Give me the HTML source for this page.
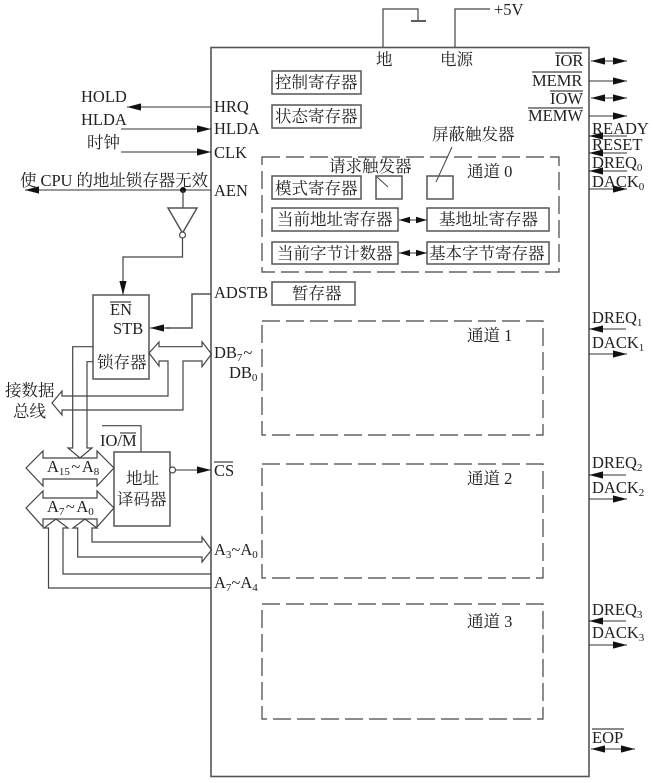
<!DOCTYPE html>
<html><head><meta charset="utf-8"><style>
html,body{margin:0;padding:0;background:#fff;width:653px;height:783px;overflow:hidden}
svg{display:block}
text{font-family:"Liberation Serif","Noto Serif CJK SC",serif;font-size:16.5px;fill:#222}
tspan.s{font-size:11px}
.l{fill:none;stroke:#444;stroke-width:1.2}
.b{fill:none;stroke:#555;stroke-width:1.5}
.d{fill:none;stroke:#444;stroke-width:1.2;stroke-dasharray:18 6}
.a{fill:none;stroke:#333;stroke-width:1.1;marker-end:url(#h)}
.aa{fill:none;stroke:#333;stroke-width:1.1;marker-end:url(#h);marker-start:url(#hs)}
.ab{fill:none;stroke:#333;stroke-width:1.1;marker-end:url(#h2);marker-start:url(#hs2)}
</style></head><body>
<svg width="653" height="783" viewBox="0 0 653 783" xmlns="http://www.w3.org/2000/svg">
<defs>
<marker id="h" markerUnits="userSpaceOnUse" markerWidth="14" markerHeight="8" refX="14" refY="4" orient="auto"><path d="M0 .4L14 4L0 7.6z" fill="#111"/></marker>
<marker id="hs" markerUnits="userSpaceOnUse" markerWidth="14" markerHeight="8" refX="0" refY="4" orient="auto"><path d="M14 .4L0 4L14 7.6z" fill="#111"/></marker>
<marker id="h2" markerUnits="userSpaceOnUse" markerWidth="11" markerHeight="8" refX="11" refY="4" orient="auto"><path d="M0 .8L11 4L0 7.2z" fill="#111"/></marker>
<marker id="hs2" markerUnits="userSpaceOnUse" markerWidth="11" markerHeight="8" refX="0" refY="4" orient="auto"><path d="M11 .8L0 4L11 7.2z" fill="#111"/></marker>
</defs>

<!-- main box -->
<rect x="211" y="47.5" width="378" height="729" fill="none" stroke="#555" stroke-width="1.6"/>

<!-- power -->
<path class="l" d="M383 47V9H418V20"/><path d="M411 21H426" stroke="#333" stroke-width="1.6"/>
<path class="l" d="M455 47V9H490"/>
<text x="494" y="15">+5V</text>
<text x="376" y="65">地</text><text x="440" y="65">电源</text>

<!-- right top signals -->
<text x="555" y="66">IOR</text><path class="l" d="M555 53H582"/>
<text x="532" y="86">MEMR</text><path class="l" d="M532 72H582"/>
<text x="550" y="104">IOW</text><path class="l" d="M550 91H583"/>
<text x="528" y="121">MEMW</text><path class="l" d="M528 108H583"/>
<path class="aa" d="M591 61H627"/>
<path class="a" d="M589 81H627"/>
<path class="aa" d="M591 98H627"/>
<path class="a" d="M589 116H627"/>
<text x="592" y="134">READY</text>
<path class="a" d="M627 136H589"/>
<text x="592" y="150">RESET</text>
<path class="a" d="M627 153H589"/>
<text x="592" y="168">DREQ<tspan class="s" dy="3">0</tspan></text>
<path class="a" d="M627 171H589"/>
<text x="592" y="187">DACK<tspan class="s" dy="3">0</tspan></text>
<path class="a" d="M589 189H627"/>

<text x="592" y="323">DREQ<tspan class="s" dy="3">1</tspan></text>
<path class="a" d="M626 329H589"/>
<text x="592" y="348">DACK<tspan class="s" dy="3">1</tspan></text>
<path class="a" d="M589 354H627"/>
<text x="592" y="468">DREQ<tspan class="s" dy="3">2</tspan></text>
<path class="a" d="M626 475H589"/>
<text x="592" y="493">DACK<tspan class="s" dy="3">2</tspan></text>
<path class="a" d="M589 499H627"/>
<text x="592" y="615">DREQ<tspan class="s" dy="3">3</tspan></text>
<path class="a" d="M626 621H589"/>
<text x="592" y="638">DACK<tspan class="s" dy="3">3</tspan></text>
<path class="a" d="M589 645H627"/>
<text x="592" y="743">EOP</text><path class="l" d="M592 729H624"/>
<path class="aa" d="M591 749H635"/>

<!-- registers -->
<rect class="b" x="272" y="71" width="89" height="23"/><text x="275" y="88">控制寄存器</text>
<rect class="b" x="272" y="105" width="89" height="23"/><text x="275" y="122">状态寄存器</text>
<text x="432" y="140">屏蔽触发器</text>
<path d="M452 147L436 182" stroke="#444" stroke-width="1" fill="none"/>

<path class="d" d="M262 157H559V272H262Z"/>
<text x="329" y="172">请求触发器</text>
<text x="467" y="177">通道 0</text>
<path d="M377 177L388 187" stroke="#444" stroke-width="1" fill="none"/>
<rect class="b" x="272" y="176" width="89" height="23"/><text x="275" y="194">模式寄存器</text>
<rect class="b" x="376" y="176" width="26" height="23"/>
<rect class="b" x="427" y="176" width="26" height="23"/>
<rect class="b" x="272" y="208" width="126" height="23"/><text x="277" y="225">当前地址寄存器</text>
<rect class="b" x="427" y="208" width="122" height="23"/><text x="439" y="225">基地址寄存器</text>
<rect class="b" x="272" y="242" width="126" height="22"/><text x="277" y="259">当前字节计数器</text>
<rect class="b" x="427" y="242" width="122" height="22"/><text x="429" y="259">基本字节寄存器</text>
<path class="ab" d="M399 220H427"/>
<path class="ab" d="M399 253H427"/>
<rect class="b" x="272" y="282" width="83" height="23"/><text x="292" y="299">暂存器</text>

<path class="d" d="M262 321H543V435H262Z"/><text x="467" y="341">通道 1</text>
<path class="d" d="M262 464H543V578H262Z"/><text x="467" y="484">通道 2</text>
<path class="d" d="M262 604H543V719H262Z"/><text x="467" y="627">通道 3</text>

<!-- left signals -->
<text x="214" y="112">HRQ</text>
<text x="214" y="134">HLDA</text>
<text x="214" y="158">CLK</text>
<text x="214" y="196">AEN</text>
<text x="81" y="102">HOLD</text>
<path class="a" d="M211 107H127"/>
<text x="81" y="125">HLDA</text>
<path class="a" d="M121 129H211"/>
<text x="87" y="148">时钟</text>
<path class="a" d="M121 152H211"/>
<text x="20" y="186" textLength="188" lengthAdjust="spacing">使 CPU 的地址锁存器无效</text>
<path class="a" d="M211 190H25"/>
<circle cx="183" cy="190" r="3" fill="#111"/>
<path class="l" d="M183 190V208"/>
<path class="b" d="M168 208H197L182.5 233Z"/>
<circle cx="182.5" cy="235" r="3" fill="#fff" stroke="#444" stroke-width="1.2"/>
<path class="l" d="M182.5 238V257H123V270"/>
<path class="a" d="M123 270V295"/>

<!-- latch -->
<rect class="b" x="93" y="295" width="56" height="84"/>
<text x="110" y="315">EN</text><path class="l" d="M110 302H131"/>
<text x="113" y="334">STB</text>
<text x="97" y="368">锁存器</text>
<text x="214" y="298">ADSTB</text>
<path class="b" d="M211 294H192V328H166"/>
<path class="a" d="M170 328H150"/>

<!-- DB bus -->
<path class="l" d="M149 353L159 342V346.7H202V341.7L211.5 354L202 366.7V361H183V410H62V415L52 403L62 391V396H168V361H159V366Z"/>
<text x="214" y="358">DB<tspan class="s" dy="3">7</tspan><tspan dy="-3" dx="1">~</tspan></text>
<text x="229" y="378">DB<tspan class="s" dy="3">0</tspan></text>
<text x="5" y="396">接数据</text>
<text x="13" y="417">总线</text>

<!-- to A15 arrow -->
<path class="l" d="M93 346.7H72.7V448H68L80 458L92 448H87V361.7H93"/>

<!-- IO/M -->
<path class="l" d="M102 425.7H141V452"/>
<text x="100" y="446">IO/M</text><path class="l" d="M120 433H136"/>

<!-- decoder -->
<rect class="b" x="114" y="452" width="56" height="74"/>
<text x="126" y="484">地址</text>
<text x="117" y="505">译码器</text>
<circle cx="172.5" cy="470" r="3" fill="#fff" stroke="#444" stroke-width="1.2"/>
<path class="a" d="M176 470H211"/>
<text x="214" y="476">CS</text><path class="l" d="M214 462H233"/>

<!-- address hollow arrows -->
<path class="l" d="M26 468L43 451V458H97V451L114 468L97 486V479H43V486Z"/>
<path class="l" d="M26 508L43 491V498H97V491L114 508L97 527V519H43V527Z"/>
<text x="47" y="472">A<tspan class="s" dy="3">15</tspan><tspan dy="-3" dx="1.5">~</tspan><tspan dx="1.5">A</tspan><tspan class="s" dy="3">8</tspan></text>
<text x="47" y="512">A<tspan class="s" dy="3">7</tspan><tspan dy="-3" dx="1.5">~</tspan><tspan dx="1.5">A</tspan><tspan class="s" dy="3">0</tspan></text>

<!-- A7~A4 -->
<path class="l" d="M211 588H48.5V528H44L56 519L68 528H63V574H211"/>
<!-- A3~A0 -->
<path class="l" d="M202 557H77.7V528H73L85 519L97 528H92V542H202V537L211.5 550L202 562Z"/>
<text x="214" y="555">A<tspan class="s" dy="3">3</tspan><tspan dy="-3">~A</tspan><tspan class="s" dy="3">0</tspan></text>
<text x="214" y="588">A<tspan class="s" dy="3">7</tspan><tspan dy="-3">~A</tspan><tspan class="s" dy="3">4</tspan></text>
</svg>
</body></html>
